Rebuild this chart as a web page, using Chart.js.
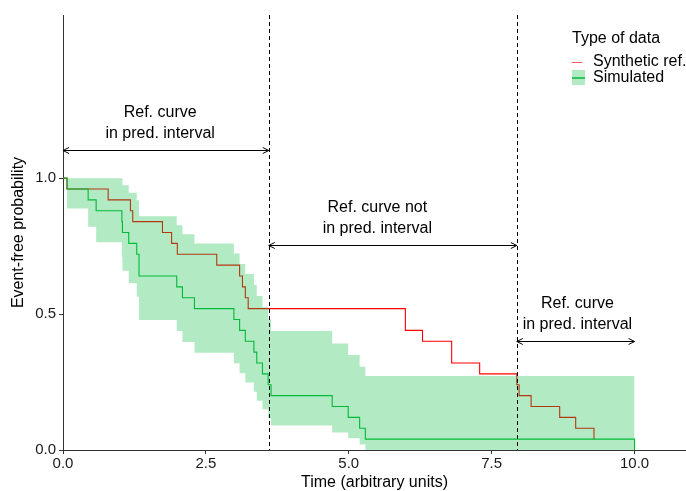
<!DOCTYPE html>
<html>
<head>
<meta charset="utf-8">
<script src="https://cdn.jsdelivr.net/npm/chart.js@4/dist/chart.umd.min.js"></script>
<style>
  html, body { margin: 0; padding: 0; background: #fff; }
  #wrap { width: 686px; height: 491px; }
</style>
</head>
<body>
<div id="wrap"><canvas id="kmChart"></canvas></div>
<script>
// synthetic reference curve
const refTimes = [0, 0.07, 0.79, 1.18, 1.22, 1.74, 1.90, 2.00, 2.69, 3.09, 3.14, 3.19, 3.24, 5.99, 6.29, 6.80, 7.29, 7.94, 7.98, 8.19, 8.69, 8.97, 9.29];
const refSurv  = [1, 0.96, 0.92, 0.88, 0.84, 0.80, 0.76, 0.72, 0.68, 0.64, 0.60, 0.56, 0.52, 0.44, 0.40, 0.32, 0.28, 0.24, 0.20, 0.16, 0.12, 0.08, 0.04];

// simulated curve and its prediction interval (same time grid)
const simTimes  = [0, 0.07, 0.44, 0.58, 1.03, 1.04, 1.15, 1.29, 1.33, 1.99, 2.09, 2.30, 2.99, 3.09, 3.19, 3.34, 3.39, 3.49, 3.59, 3.64, 4.71, 4.99, 5.19, 5.29, 10];
const simSurv   = [1, 0.96, 0.92, 0.88, 0.84, 0.80, 0.76, 0.72, 0.64, 0.60, 0.56, 0.52, 0.48, 0.44, 0.40, 0.36, 0.32, 0.28, 0.24, 0.20, 0.16, 0.12, 0.08, 0.04, 0];
const bandUpper = [1, 1, 1, 1, 1, 0.974, 0.946, 0.919, 0.86, 0.827, 0.794, 0.76, 0.723, 0.684, 0.647, 0.607, 0.566, 0.525, 0.48, 0.438, 0.392, 0.349, 0.306, 0.272, 0.272];
const bandLower = [1, 0.888, 0.821, 0.764, 0.711, 0.659, 0.613, 0.564, 0.478, 0.438, 0.397, 0.358, 0.319, 0.282, 0.248, 0.214, 0.181, 0.15, 0.117, 0.09, 0.064, 0.043, 0.02, 0, 0];

const xTicks = [0, 2.5, 5, 7.5, 10];
const yTicks = [0, 0.5, 1];

// annotation spans
const cutTimes = [3.6, 7.94];
const spanStart = [0, 3.6, 7.94];
const spanEnd = [3.6, 7.94, 10];
const spanLevel = [1.103, 0.754, 0.40];
const spanLabelX = [1.7, 5.5, 9.0];
const spanLabels = [
    ["Ref. curve", "in pred. interval"],
    ["Ref. curve not", "in pred. interval"],
    ["Ref. curve", "in pred. interval"]
];

const FONT = '"Liberation Sans", Arial, sans-serif';
const GREEN = '#00ba38';
const BAND = 'rgba(0,186,56,0.3)';
const RED = '#ff0000';

const toPoints = (xs, ys) => xs.map((x, i) => ({x: x, y: ys[i]}));

function arrowHead(ctx, px, py, dir) {
    ctx.beginPath();
    ctx.moveTo(px - dir * 6, py - 3);
    ctx.lineTo(px, py);
    ctx.lineTo(px - dir * 6, py + 3);
    ctx.stroke();
}

const overlay = {
    id: 'overlay',
    afterDatasetsDraw(chart) {
        const {ctx, chartArea} = chart;
        const x = chart.scales.x, y = chart.scales.y;
        ctx.save();
        ctx.strokeStyle = '#000';
        ctx.fillStyle = '#000';
        ctx.lineWidth = 1;

        // dashed cut lines
        ctx.setLineDash([4, 3]);
        cutTimes.forEach(t => {
            const px = Math.round(x.getPixelForValue(t)) + 0.5;
            ctx.beginPath();
            ctx.moveTo(px, chartArea.top);
            ctx.lineTo(px, chartArea.bottom);
            ctx.stroke();
        });
        ctx.setLineDash([]);

        // double arrows + labels
        ctx.font = '16px ' + FONT;
        ctx.textAlign = 'center';
        ctx.textBaseline = 'middle';
        spanStart.forEach((s, i) => {
            const x0 = x.getPixelForValue(s);
            const x1 = x.getPixelForValue(spanEnd[i]);
            const py = Math.round(y.getPixelForValue(spanLevel[i])) + 0.5;
            ctx.beginPath();
            ctx.moveTo(x0, py);
            ctx.lineTo(x1, py);
            ctx.stroke();
            arrowHead(ctx, x0, py, -1);
            arrowHead(ctx, x1, py, 1);
            const lx = x.getPixelForValue(spanLabelX[i]);
            ctx.fillText(spanLabels[i][0], lx, py - 38);
            ctx.fillText(spanLabels[i][1], lx, py - 17);
        });

        // legend
        ctx.textAlign = 'left';
        ctx.fillText('Type of data', 572, 39);
        ctx.strokeStyle = 'rgba(255,0,0,0.65)';
        ctx.beginPath();
        ctx.moveTo(572, 62.5);
        ctx.lineTo(582, 62.5);
        ctx.stroke();
        ctx.fillStyle = BAND;
        ctx.fillRect(572, 70, 13, 15);
        ctx.strokeStyle = GREEN;
        ctx.lineWidth = 1.5;
        ctx.beginPath();
        ctx.moveTo(572, 78);
        ctx.lineTo(585, 78);
        ctx.stroke();
        ctx.fillStyle = '#000';
        ctx.fillText('Synthetic ref.', 593, 62);
        ctx.fillText('Simulated', 593, 78);

        // axis titles
        ctx.textAlign = 'center';
        ctx.fillText('Time (arbitrary units)', (chartArea.left + chartArea.right) / 2, 483);
        ctx.translate(19, (chartArea.top + chartArea.bottom) / 2);
        ctx.rotate(-Math.PI / 2);
        ctx.fillText('Event-free probability', 0, 0);
        ctx.restore();
    }
};

const stepLine = (data, color) => ({
    data: data,
    borderColor: color,
    borderWidth: 1.1,
    stepped: 'before',
    pointRadius: 0,
    fill: false
});

new Chart(document.getElementById('kmChart'), {
    type: 'line',
    data: {
        datasets: [
            stepLine(toPoints(simTimes, simSurv), GREEN),
            {
                data: toPoints(simTimes, bandUpper),
                borderWidth: 0,
                borderColor: 'rgba(0,0,0,0)',
                stepped: 'before',
                pointRadius: 0,
                fill: false
            },
            {
                data: toPoints(simTimes, bandLower),
                borderWidth: 0,
                borderColor: 'rgba(0,0,0,0)',
                backgroundColor: BAND,
                stepped: 'before',
                pointRadius: 0,
                fill: '-1'
            },
            stepLine(toPoints(refTimes, refSurv), RED)
        ]
    },
    options: {
        responsive: true,
        maintainAspectRatio: false,
        animation: false,
        layout: {padding: {top: 15, right: 0, left: 0, bottom: 0}},
        scales: {
            x: {
                type: 'linear',
                min: 0,
                max: 10.9,
                afterBuildTicks: scale => { scale.ticks = xTicks.map(v => ({value: v})); },
                afterFit: scale => { scale.height = 41; },
                grid: {drawOnChartArea: false, drawTicks: true, tickLength: 4, color: '#333'},
                border: {display: true, color: '#333', width: 1},
                ticks: {
                    color: '#1a1a1a',
                    font: {family: FONT, size: 15},
                    padding: 1,
                    maxRotation: 0,
                    callback: v => v.toFixed(1)
                }
            },
            y: {
                min: 0,
                max: 1.6,
                afterBuildTicks: scale => { scale.ticks = yTicks.map(v => ({value: v})); },
                afterFit: scale => { scale.width = 63; },
                grid: {drawOnChartArea: false, drawTicks: true, tickLength: 4, color: '#333'},
                border: {display: true, color: '#333', width: 1},
                ticks: {
                    color: '#1a1a1a',
                    font: {family: FONT, size: 15},
                    padding: 3,
                    callback: v => v.toFixed(1)
                }
            }
        },
        plugins: {
            legend: {display: false},
            tooltip: {enabled: false}
        }
    },
    plugins: [overlay]
});
</script>
</body>
</html>
